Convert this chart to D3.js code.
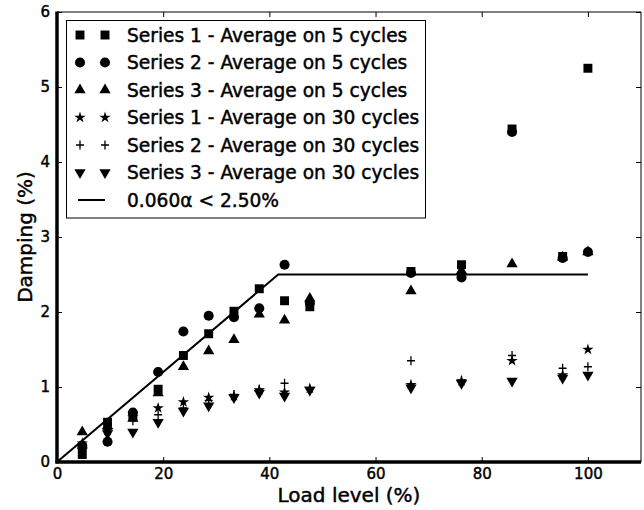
<!DOCTYPE html>
<html>
<head>
<meta charset="utf-8">
<script src="https://cdn.jsdelivr.net/npm/d3@7"></script>
<style>
  html, body { margin: 0; padding: 0; background: #fff; }
  svg { display: block; font-family: "DejaVu Sans", sans-serif; }
  svg text { fill: #000; stroke: #000; stroke-width: 0.45px; }
</style>
</head>
<body>
<svg id="chart" width="644" height="510"></svg>
<script>
// Load levels (%) at which damping was measured
const loadLevels = [4.76, 9.52, 14.29, 19.05, 23.81, 28.57, 33.33, 38.10, 42.86, 47.62, 66.67, 76.19, 85.71, 95.24, 100];

// Damping (%) averaged over 5 cycles
const series1Avg5 = [0.10, 0.53, 0.62, 0.97, 1.42, 1.71, 2.01, 2.31, 2.15, 2.07, 2.54, 2.63, 4.44, 2.74, 5.25];
const series2Avg5 = [0.22, 0.27, 0.66, 1.20, 1.74, 1.95, 1.93, 2.05, 2.63, 2.12, 2.52, 2.46, 4.40, 2.72, 2.80];
const series3Avg5 = [0.40, 0.48, 0.58, 0.92, 1.27, 1.48, 1.63, 1.97, 1.89, 2.18, 2.28, 2.55, 2.64, 2.73, 2.80];

// Damping (%) averaged over 30 cycles
const series1Avg30 = [0.25, 0.42, 0.60, 0.72, 0.80, 0.86, 0.88, 0.96, 0.93, 0.98, 1.03, 1.08, 1.35, 1.16, 1.50];
const series2Avg30 = [0.18, 0.45, 0.55, 0.63, 0.72, 0.82, 0.90, 0.97, 1.05, 0.97, 1.35, 1.09, 1.42, 1.25, 1.27];
const series3Avg30 = [0.15, 0.38, 0.40, 0.53, 0.68, 0.75, 0.86, 0.92, 0.88, 0.96, 0.99, 1.05, 1.08, 1.12, 1.16];

// Design law: damping = 0.060 * load, capped at 2.50 %
const modelLoad = [0, 41.67, 100];
const modelDamping = [0, 2.50, 2.50];

const seriesLabels = [
  "Series 1 - Average on 5 cycles",
  "Series 2 - Average on 5 cycles",
  "Series 3 - Average on 5 cycles",
  "Series 1 - Average on 30 cycles",
  "Series 2 - Average on 30 cycles",
  "Series 3 - Average on 30 cycles"
];
const modelLabel = "0.060\u03b1 < 2.50%";

const xTicks = [0, 20, 40, 60, 80, 100];
const yTicks = [0, 1, 2, 3, 4, 5, 6];

(function () {
  const svg = d3.select("#chart");
  const pl = 57, pr = 641, pt = 12, pb = 462;

  const x = d3.scaleLinear().domain([0, 110]).range([pl, pr]);
  const y = d3.scaleLinear().domain([0, 6]).range([pb, pt]);

  // marker shapes
  const sym = (type, size) => d3.symbol().type(type).size(size)();
  const plusPath = "M-4,0H4M0,-4.5V4.5";
  const markers = [
    { d: sym(d3.symbolSquare, 80), rot: 0, fill: true },
    { d: sym(d3.symbolCircle, 80), rot: 0, fill: true },
    { d: sym(d3.symbolTriangle, 55), rot: 0, fill: true },
    { d: sym(d3.symbolStar, 40), rot: 0, fill: true },
    { d: plusPath, rot: 0, fill: false },
    { d: sym(d3.symbolTriangle, 55), rot: 180, fill: true }
  ];
  const allSeries = [series1Avg5, series2Avg5, series3Avg5, series1Avg30, series2Avg30, series3Avg30];

  function drawMarker(g, m, px, py) {
    const p = g.append("path")
      .attr("d", m.d)
      .attr("transform", `translate(${px},${py}) rotate(${m.rot})`);
    if (m.fill) p.attr("fill", "#000").attr("stroke", "none");
    else p.attr("fill", "none").attr("stroke", "#000").attr("stroke-width", 1.3);
  }

  // model line
  const line = d3.line().x((d, i) => x(modelLoad[i])).y(d => y(d));
  svg.append("path")
    .datum(modelDamping)
    .attr("d", line)
    .attr("fill", "none")
    .attr("stroke", "#000")
    .attr("stroke-width", 2);

  // data points
  const pts = svg.append("g");
  allSeries.forEach((vals, si) => {
    vals.forEach((v, i) => drawMarker(pts, markers[si], x(loadLevels[i]), y(v)));
  });

  // axes (ticks pointing inward, labels outside)
  const axB = d3.axisBottom(x).tickValues(xTicks).tickSize(-5).tickPadding(6).tickFormat(d3.format("d"));
  const axL = d3.axisLeft(y).tickValues(yTicks).tickSize(-5).tickPadding(7).tickFormat(d3.format("d"));
  const axT = d3.axisTop(x).tickValues(xTicks).tickSize(-5).tickFormat("");
  const axR = d3.axisRight(y).tickValues(yTicks).tickSize(-5).tickFormat("");

  function styleAxis(g) {
    g.select(".domain").remove();
    g.selectAll(".tick line").attr("stroke", "#000").attr("stroke-width", 1);
    g.selectAll(".tick text").style("font-size", "15px").style("font-family", "DejaVu Sans");
  }
  svg.append("g").attr("transform", `translate(0,${pb})`).call(axB).call(styleAxis);
  svg.append("g").attr("transform", `translate(${pl},0)`).call(axL).call(styleAxis);
  svg.append("g").attr("transform", `translate(0,${pt})`).call(axT).call(styleAxis);
  svg.append("g").attr("transform", `translate(${pr},0)`).call(axR).call(styleAxis);

  // frame
  svg.append("line").attr("x1", pl).attr("x2", pr).attr("y1", pt).attr("y2", pt).attr("stroke", "#000").attr("stroke-width", 1);
  svg.append("line").attr("x1", pr).attr("x2", pr).attr("y1", pt).attr("y2", pb).attr("stroke", "#000").attr("stroke-width", 1);
  svg.append("line").attr("x1", pl).attr("x2", pl).attr("y1", pt - 0.5).attr("y2", pb + 1.5).attr("stroke", "#000").attr("stroke-width", 3.5);
  svg.append("line").attr("x1", pl - 1.5).attr("x2", pr).attr("y1", pb).attr("y2", pb).attr("stroke", "#000").attr("stroke-width", 3.5);

  // axis titles
  svg.append("text")
    .attr("x", (pl + pr) / 2).attr("y", 502)
    .attr("text-anchor", "middle")
    .style("font-size", "20px")
    .text("Load level (%)");
  svg.append("text")
    .attr("transform", `translate(32,${(pt + pb) / 2}) rotate(-90)`)
    .attr("text-anchor", "middle")
    .style("font-size", "20px")
    .text("Damping (%)");

  // legend
  const lg = svg.append("g");
  lg.append("rect")
    .attr("x", 66.5).attr("y", 20.5).attr("width", 359).attr("height", 197.5)
    .attr("fill", "#fff").attr("stroke", "#000").attr("stroke-width", 1);
  const rowY = i => 35 + i * 27.5;
  seriesLabels.forEach((lab, i) => {
    drawMarker(lg, markers[i], 80, rowY(i));
    drawMarker(lg, markers[i], 105, rowY(i));
    lg.append("text").attr("x", 127).attr("y", rowY(i)).attr("dy", "0.35em")
      .style("font-size", "18.6px").text(lab);
  });
  lg.append("line").attr("x1", 78).attr("x2", 105).attr("y1", rowY(6)).attr("y2", rowY(6))
    .attr("stroke", "#000").attr("stroke-width", 2);
  lg.append("text").attr("x", 127).attr("y", rowY(6)).attr("dy", "0.35em")
    .style("font-size", "18.6px").text(modelLabel);
})();
</script>
</body>
</html>
